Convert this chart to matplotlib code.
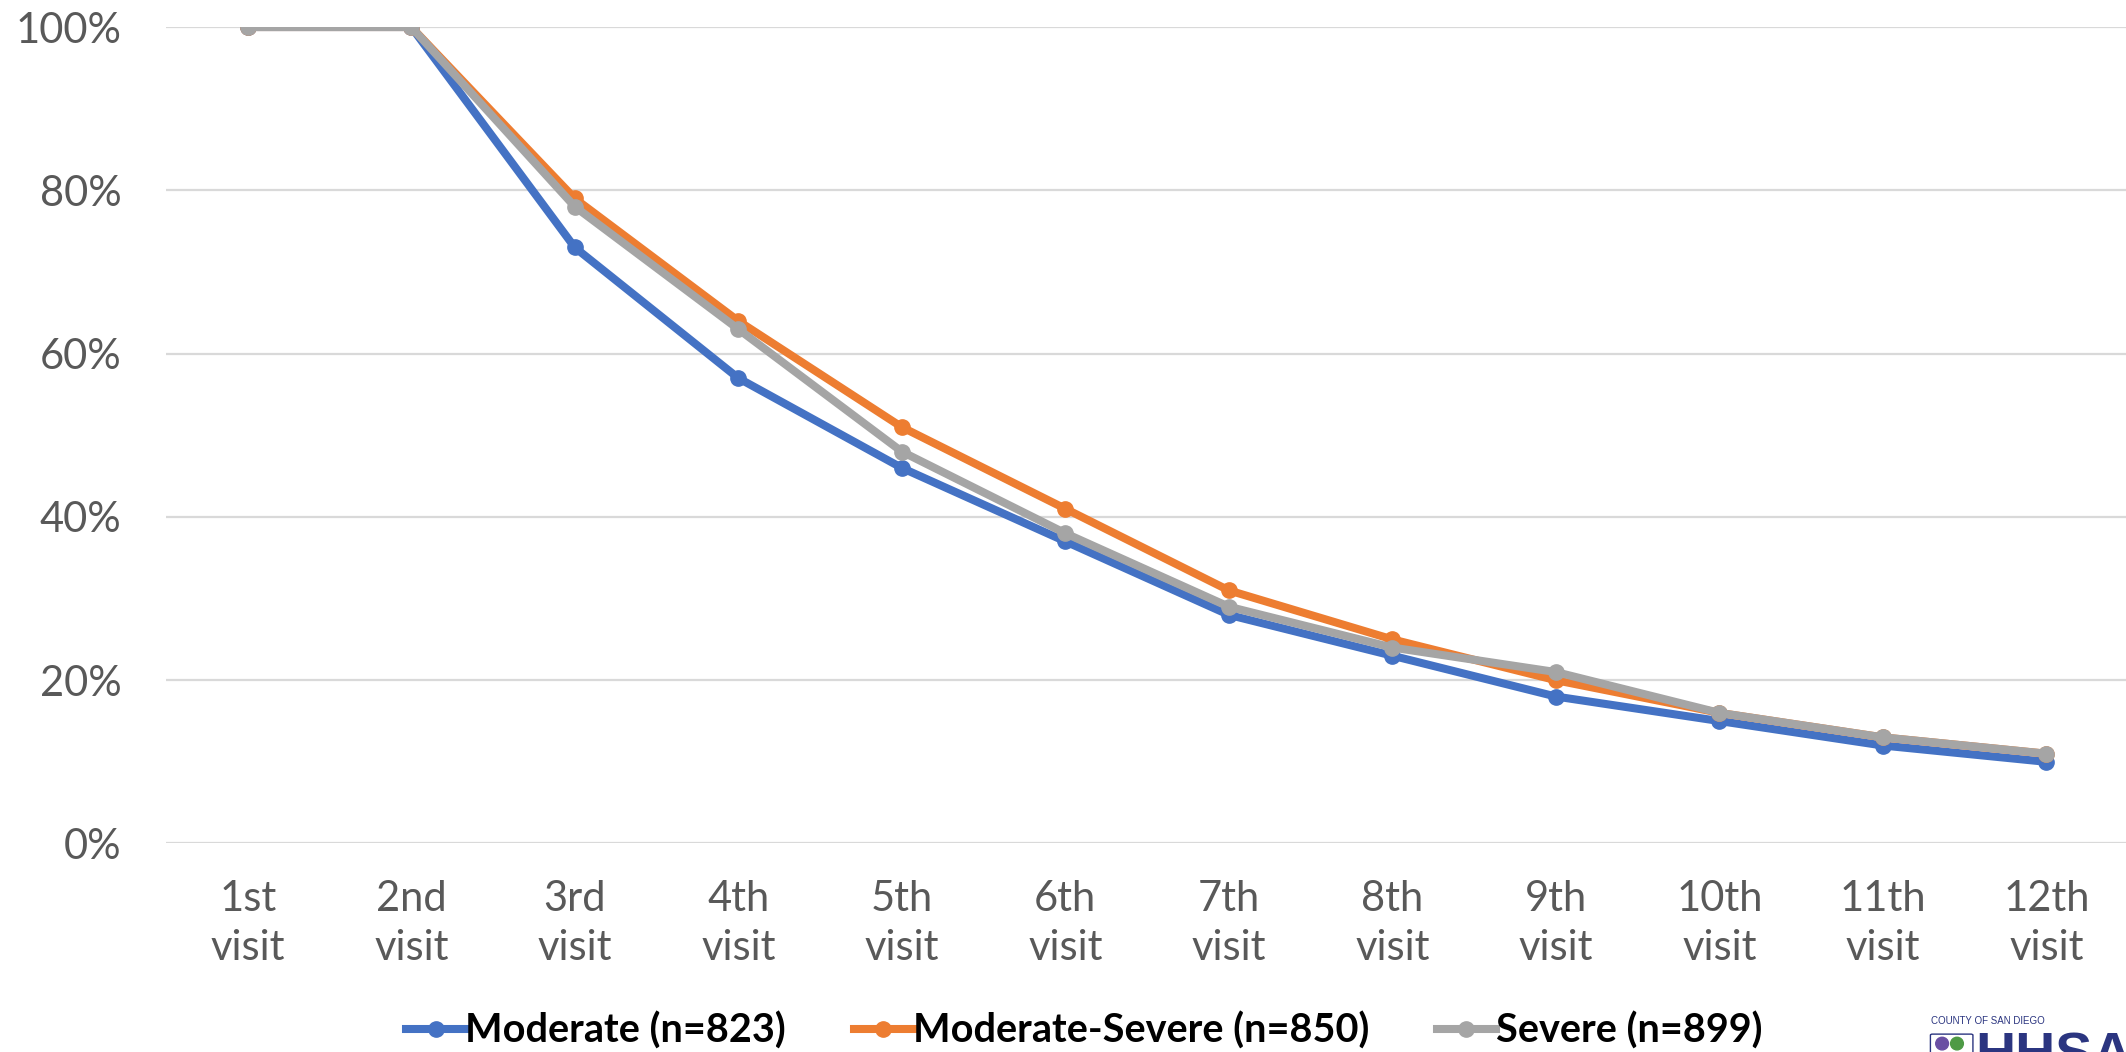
import numpy as np
import matplotlib.pyplot as plt
from matplotlib.patches import FancyBboxPatch, Ellipse

plt.rcParams['font.family'] = ['Lato', 'DejaVu Sans']

visits = ["1st\nvisit", "2nd\nvisit", "3rd\nvisit", "4th\nvisit", "5th\nvisit", "6th\nvisit",
          "7th\nvisit", "8th\nvisit", "9th\nvisit", "10th\nvisit", "11th\nvisit", "12th\nvisit"]
moderate = [100, 100, 73, 57, 46, 37, 28, 23, 18, 15, 12, 10]
moderate_severe = [100, 100, 79, 64, 51, 41, 31, 25, 20, 16, 13, 11]
severe = [100, 100, 78, 63, 48, 38, 29, 24, 21, 16, 13, 11]

series = [
    ("Moderate (n=823)", moderate, "#4472C4"),
    ("Moderate-Severe (n=850)", moderate_severe, "#ED7D31"),
    ("Severe (n=899)", severe, "#A5A5A5"),
]

fig = plt.figure(figsize=(21.26, 10.52), dpi=100)
ax = fig.add_axes([0.0781, 0.1982, 0.9229, 0.7761])

x = np.arange(len(visits))
for name, vals, col in series:
    ax.plot(x, np.array(vals) / 100, color=col, lw=5.8, marker="o", ms=11,
            label=name, solid_joinstyle="round")

ax.set_xlim(-0.5, len(visits) - 0.5)
ax.set_ylim(0, 1)
ax.set_yticks(np.arange(0, 1.01, 0.2))
ax.set_yticklabels([f"{int(round(v * 100))}%" for v in np.arange(0, 1.01, 0.2)])
ax.set_xticks(x)
ax.set_xticklabels(visits, linespacing=1.38)
ax.tick_params(axis="both", length=0, labelsize=30, labelcolor="#595959")
ax.tick_params(axis="y", pad=32)
ax.tick_params(axis="x", pad=26)
ax.grid(True, axis="y", color="#D9D9D9", lw=1.6)
ax.set_axisbelow(True)
for s in ax.spines.values():
    s.set_visible(False)

fig.legend(loc="center", bbox_to_anchor=(0.51, 0.02), ncol=3, frameon=False,
           prop={"weight": "bold", "size": 28.5}, handlelength=1.5,
           handletextpad=0.0, columnspacing=1.7)

# county logo in the corner
fig.text(0.9085, 0.0245, "COUNTY OF SAN DIEGO", fontsize=7, color="#2B3580",
         family="Liberation Sans", va="bottom")
fig.text(0.929, -0.03, "HHSA", fontsize=40, color="#2B3580", weight="bold",
         family="Liberation Sans", va="bottom")
fig.patches.append(FancyBboxPatch((0.9090, -0.01), 0.0180, 0.026,
                                  boxstyle="round,pad=0.001", transform=fig.transFigure,
                                  fill=False, ec="#2B3580", lw=1))
fig.patches.append(Ellipse((0.9135, 0.008), 0.006, 0.012, transform=fig.transFigure,
                           color="#6A4FA3"))
fig.patches.append(Ellipse((0.9205, 0.008), 0.006, 0.012, transform=fig.transFigure,
                           color="#4E9A45"))

fig.savefig("out.png", dpi=100)
